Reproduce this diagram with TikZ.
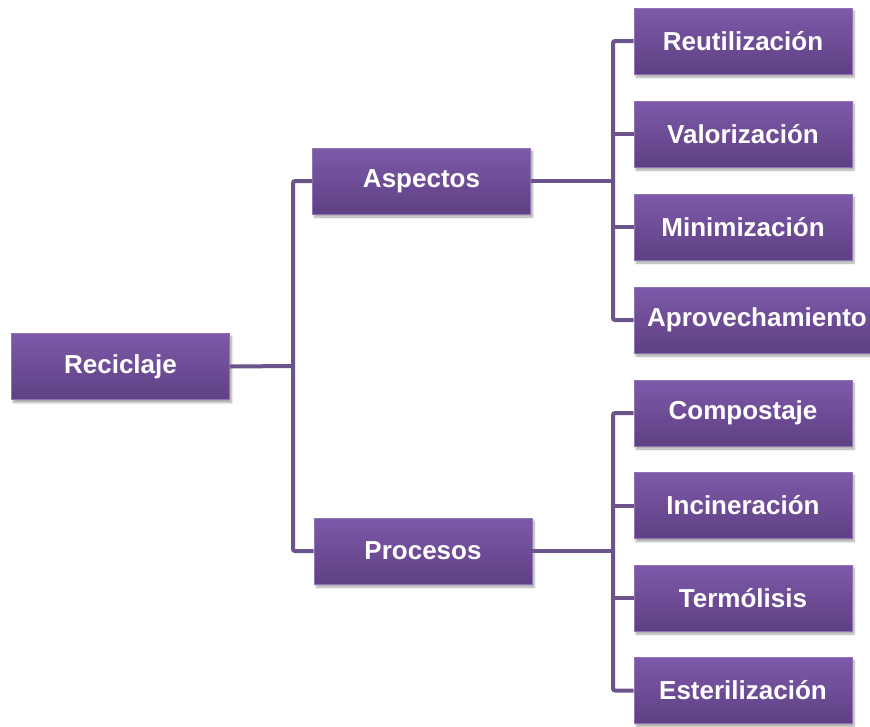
\documentclass[tikz,border=0pt]{standalone}
\usepackage{fontspec}
\setmainfont{Liberation Sans}
\usetikzlibrary{shadows.blur}
\definecolor{lin}{HTML}{6B538C}
\definecolor{btop}{HTML}{7E59A8}
\definecolor{bbot}{HTML}{5E4084}
\definecolor{bord}{HTML}{8E74B4}
\begin{document}
\begin{tikzpicture}[x=1pt,y=-1pt,
  box/.style={rectangle, minimum width=218pt, minimum height=66pt, inner sep=0pt,
    top color=btop, bottom color=bbot, draw=bord, line width=0.8pt,
    blur shadow={shadow xshift=2pt, shadow yshift=-3pt, shadow blur steps=6, shadow opacity=35},
    text=white, font=\fontsize{26}{30}\selectfont\bfseries},
  conn/.style={draw=lin, line width=4pt, rounded corners=2pt}]
\useasboundingbox (0,0) rectangle (870,726);
% nodes
\node[box] (rec) at (120.5,366.5) {Reciclaje};
\node[box] (asp) at (421.5,181) {Aspectos};
\node[box] (pro) at (423,551) {Procesos};
\node[box] (reu) at (743,41) {Reutilización};
\node[box] (val) at (743,134) {Valorización};
\node[box] (min) at (743,227) {Minimización};
\node[box, minimum width=246pt] (apr) at (757,320) {Aprovechamiento};
\node[box] (com) at (743,413) {Compostaje};
\node[box] (inc) at (743,505.5) {Incineración};
\node[box] (ter) at (743,598) {Termólisis};
\node[box] (est) at (743,690.5) {Esterilización};
% coordinates
\coordinate (busR) at (293,366);
\coordinate (busA) at (613,181);
\coordinate (busP) at (613,551);
% connectors
\draw[conn] (rec.east) -- (busR);
\draw[conn] (asp.west) -| (busR) |- (pro.west);
\draw[conn] (asp.east) -- (busA);
\draw[conn] (reu.west) -| (busA) |- (apr.west);
\draw[conn] (val.west) -- (val.west -| busA);
\draw[conn] (min.west) -- (min.west -| busA);
\draw[conn] (pro.east) -- (busP);
\draw[conn] (com.west) -| (busP) |- (est.west);
\draw[conn] (inc.west) -- (inc.west -| busP);
\draw[conn] (ter.west) -- (ter.west -| busP);
\end{tikzpicture}
\end{document}
